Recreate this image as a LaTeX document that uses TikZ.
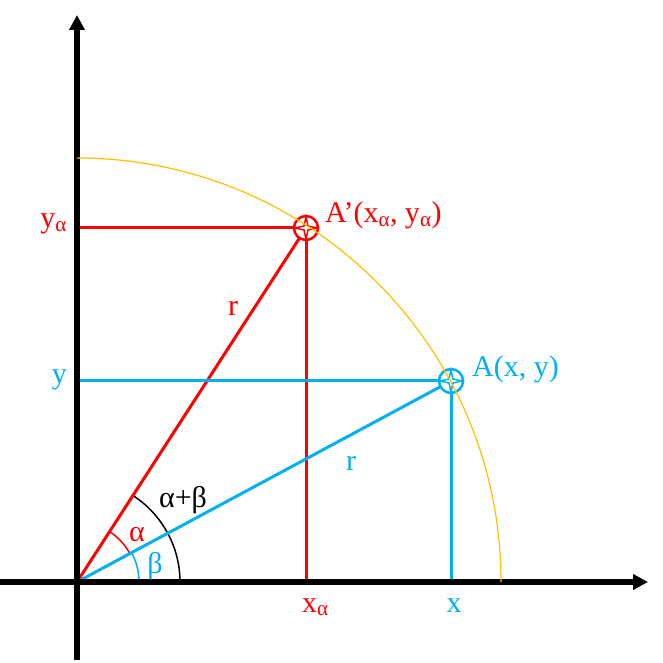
\documentclass[tikz,border=0pt]{standalone}
\usepackage{fontspec}
\setmainfont{Liberation Serif}
\usetikzlibrary{arrows.meta}
\definecolor{redline}{RGB}{255,0,0}
\definecolor{blueline}{RGB}{0,176,240}
\definecolor{goldarc}{RGB}{255,192,0}

\begin{document}
\begin{tikzpicture}[x=1pt, y=1pt,
	axis/.style={line width=5pt, -{Triangle[length=15pt,width=15pt]}},
	every node/.style={font=\fontsize{30}{34}\selectfont, inner sep=0pt},
	leg/.style={line width=3pt}]
	\useasboundingbox (-77,-81) rectangle (586,582);
	% points
	\coordinate (O) at (0,0);
	\coordinate (A) at (374,201);
	\coordinate (Ap) at (229,354);
	\coordinate (Ax) at (374,0);
	\coordinate (Ay) at (0,201);
	\coordinate (Apx) at (229,0);
	\coordinate (Apy) at (0,354);
	\coordinate (xl) at (-77,0);
	\coordinate (xr) at (571,0);
	\coordinate (yb) at (0,-78);
	\coordinate (yt) at (0,567);
	% angle arcs
	\draw[line width=1.5pt] (O) ++(0:103) arc (0:57.1:103);
	\draw[redline, line width=1.5pt] (O) ++(28.3:60) arc (28.3:57.1:60);
	\draw[blueline, line width=1.5pt] (O) ++(0:62) arc (0:28.3:62);
	% legs
	\draw[leg, redline] (Apy) -- (Ap) -- (Apx);
	\draw[leg, redline] (O) -- (Ap);
	\draw[leg, blueline] (Ay) -- (A) -- (Ax);
	\draw[leg, blueline] (O) -- (A);
	% axes
	\draw[axis] (xl) -- (xr);
	\draw[axis] (yb) -- (yt);
	% markers
	\foreach \p/\c in {A/blueline, Ap/redline} {
		\draw[\c, line width=2.5pt, fill=white] (\p) circle (12);
		\draw[\c, line width=1.5pt, shift={(\p)}] (11,0) -- (2,2) -- (0,11) -- (-2,2)
			-- (-11,0) -- (-2,-2) -- (0,-11) -- (2,-2) -- cycle;
	}
	\draw[goldarc, line width=1.2pt] (O) ++(0:424) arc (0:90:424);
	% labels
	\node[redline, anchor=base west] (lAp) at ([shift={(19,5)}]Ap) {A’(x\textsubscript{α}, y\textsubscript{α})};
	\node[blueline, anchor=base west] (lA) at ([shift={(21,4)}]A) {A(x, y)};
	\node[redline, anchor=base east] (lya) at ([xshift=-10]Apy) {y\textsubscript{α}};
	\node[blueline, anchor=base east] (ly) at ([shift={(-10,-3)}]Ay) {y};
	\node[redline, anchor=base west] (lxa) at ([shift={(-4,-30)}]Apx) {x\textsubscript{α}};
	\node[blueline, anchor=base] (lx) at ([shift={(3,-30)}]Ax) {x};
	\node[redline, anchor=base] (lr1) at (156,266) {r};
	\node[blueline, anchor=base] (lr2) at (274,111) {r};
	\node[anchor=base] (lab) at (106,74) {α+β};
	\node[redline, anchor=base] (la) at (60,40) {α};
	\node[blueline, anchor=base] (lb) at (78,9) {β};
\end{tikzpicture}
\end{document}
